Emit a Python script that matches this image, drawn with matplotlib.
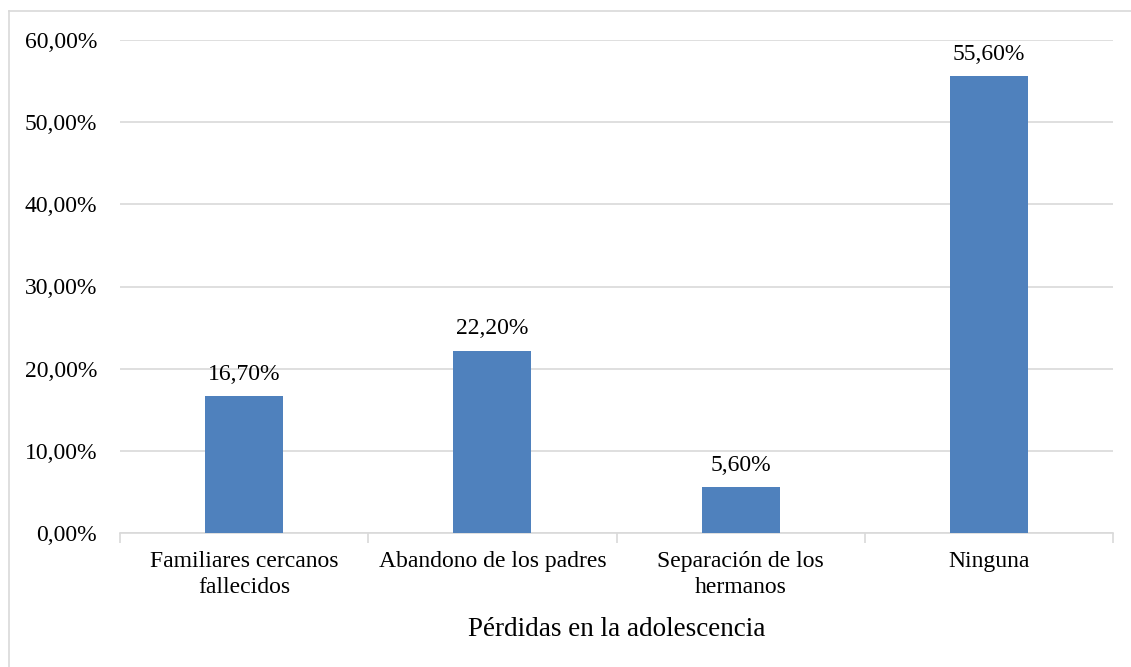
import matplotlib
matplotlib.use("Agg")
import matplotlib.pyplot as plt
from matplotlib.lines import Line2D
from matplotlib.ticker import FuncFormatter, MultipleLocator

categories = ["Familiares cercanos\nfallecidos", "Abandono de los padres",
              "Separación de los\nhermanos", "Ninguna"]
values = [16.70, 22.20, 5.60, 55.60]
xlabel = "Pérdidas en la adolescencia"

plt.rcParams['font.family'] = ['Liberation Serif', 'DejaVu Serif']

W, H = 1131, 667
fig = plt.figure(figsize=(W / 100, H / 100), dpi=100)
ax = fig.add_axes([120 / W, 1 - 533 / H, (1113 - 120) / W, (533 - 40) / H])

x = range(len(categories))
ax.bar(x, values, width=0.315, color="#4F81BD", zorder=3)
for i, v in zip(x, values):
    ax.annotate(f"{v:.2f}%".replace(".", ","), (i, v), xytext=(0, 8),
                textcoords="offset points", ha="center", va="bottom",
                fontsize=17, color="#000000")

ax.set_xlim(-0.5, len(categories) - 0.5)
ax.set_ylim(0, 60)
ax.yaxis.set_major_locator(MultipleLocator(10))
ax.yaxis.set_major_formatter(FuncFormatter(lambda v, p: f"{v:.2f}%".replace(".", ",")))
ax.grid(axis="y", color="#D9D9D9", linewidth=1.2, zorder=0)
for s in ["top", "right", "left"]:
    ax.spines[s].set_visible(False)
ax.spines["bottom"].set_color("#D9D9D9")
ax.spines["bottom"].set_linewidth(1.2)
ax.tick_params(axis="y", length=0, pad=16.5, labelsize=17)
ax.set_xticks(x)
ax.set_xticklabels(categories, fontsize=17, linespacing=1.3)
ax.tick_params(axis="x", length=0, pad=13)
# category boundary ticks
ax.set_xticks([i - 0.5 for i in range(len(categories) + 1)], minor=True)
ax.tick_params(axis="x", which="minor", length=7, color="#D9D9D9", width=1.2)
ax.set_xlabel(xlabel, fontsize=19.5, labelpad=14)

# figure frame (left and top edges)
fig.add_artist(Line2D([8.5 / W, 8.5 / W], [0, 1 - 11 / H], transform=fig.transFigure,
                      color="#D9D9D9", linewidth=1.2))
fig.add_artist(Line2D([8.5 / W, 1], [1 - 11 / H, 1 - 11 / H], transform=fig.transFigure,
                      color="#D9D9D9", linewidth=1.2))

fig.savefig("out.png", dpi=100)
